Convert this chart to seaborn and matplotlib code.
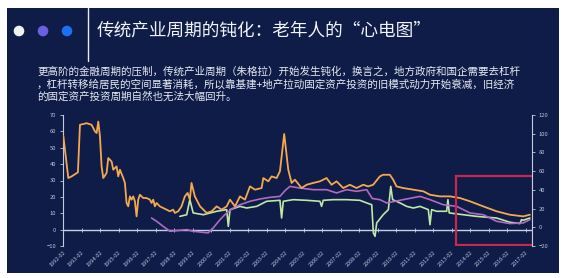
import matplotlib
matplotlib.use("Agg")
import matplotlib.pyplot as plt
from matplotlib.patches import Rectangle, Circle
import seaborn as sns

# ---- text ----
title = "传统产业周期的钝化：老年人的“心电图”"
body_lines = [
    "更高阶的金融周期的压制，传统产业周期（朱格拉）开始发生钝化，换言之，地方政府和国企需要去杠杆",
    "，杠杆转移给居民的空间显著消耗，所以靠基建+地产拉动固定资产投资的旧模式动力开始衰减，旧经济",
    "的固定资产投资周期自然也无法大幅回升。",
]

# ---- category axis (February of every year) ----
tick_years = list(range(1992, 2018))
tick_labels = [f"{y}-02" for y in tick_years]

# ---- series (time in decimal years, values in %) ----
orange_t = [1992.10, 1992.37, 1992.55, 1992.89, 1993.00, 1993.36, 1993.63, 1993.81, 1993.90, 1993.99,
            1994.08, 1994.17, 1994.26, 1994.44, 1994.53, 1994.71, 1994.80, 1994.98, 1995.07, 1995.16,
            1995.34, 1995.43, 1995.52, 1995.61, 1995.70, 1995.79, 1995.88, 1995.97, 1996.06, 1996.15,
            1996.24, 1996.42, 1996.60, 1996.78, 1996.87, 1996.96, 1997.05, 1997.14, 1997.32, 1997.50,
            1997.68, 1997.86, 1998.04, 1998.13, 1998.31, 1998.49, 1998.67, 1998.82, 1998.94, 1999.03,
            1999.21, 1999.49, 1999.85, 2000.12, 2000.39, 2000.66, 2000.93, 2001.11, 2001.38, 2001.65,
            2001.92, 2002.19, 2002.46, 2002.82, 2002.91, 2003.18, 2003.36, 2003.63, 2003.81, 2004.04,
            2004.26, 2004.44, 2004.62, 2004.98, 2005.25, 2005.61, 2005.97, 2006.33, 2006.60, 2006.87,
            2007.23, 2007.59, 2007.95, 2008.31, 2008.58, 2008.85, 2009.21, 2009.39, 2009.75, 2009.93,
            2010.11, 2010.47, 2011.02, 2011.56, 2011.92, 2012.46, 2013.00, 2013.54, 2014.08, 2014.80,
            2015.52, 2016.24, 2016.96, 2017.32]
orange_v = [57.3, 31.5, 32.5, 35.0, 64.0, 65.0, 64.0, 60.0, 59.0, 66.0,
            57.0, 38.6, 31.5, 34.6, 43.7, 41.6, 36.6, 38.6, 32.5, 36.6,
            31.5, 28.5, 16.3, 14.2, 20.3, 18.3, 20.3, 17.3, 8.1, 18.3,
            21.3, 19.3, 19.3, 18.3, 16.3, 18.3, 14.2, 16.3, 14.2, 13.2,
            12.2, 11.2, 12.2, 10.2, 11.2, 14.2, 20.3, 22.4, 18.3, 28.5,
            20.3, 14.2, 10.2, 11.2, 14.2, 12.2, 14.2, 18.3, 14.2, 20.3,
            18.3, 26.4, 24.4, 25.4, 31.5, 29.5, 32.5, 31.5, 35.6, 58.4,
            36.6, 28.5, 30.5, 25.4, 27.4, 28.5, 29.5, 31.5, 27.4, 29.5,
            25.4, 27.4, 25.4, 27.4, 26.4, 27.4, 32.5, 33.5, 33.5, 30.5,
            26.4, 25.4, 24.4, 23.4, 21.3, 20.3, 20.3, 19.3, 17.3, 14.2,
            11.2, 9.1, 8.1, 9.1]

purple_t = [1996.87, 1997.14, 1997.50, 1997.86, 1998.22, 1998.77, 1999.12, 1999.93, 2000.20, 2000.57,
            2000.93, 2001.29, 2001.65, 2002.19, 2002.73, 2003.27, 2003.81, 2004.10, 2004.35, 2004.89,
            2005.61, 2006.33, 2006.87, 2007.41, 2007.95, 2008.50, 2008.80, 2009.21, 2009.58, 2010.47,
            2011.38, 2011.92, 2012.64, 2013.36, 2014.08, 2014.80, 2015.52, 2016.24, 2016.96, 2017.32]
purple_v = [7.1, 5.1, 2.0, -1.0, -0.6, 0.0, -1.0, -2.0, 1.0, 6.1,
            10.2, 13.2, 15.2, 17.3, 18.7, 19.7, 20.3, 24.0, 26.4, 25.4,
            24.4, 24.4, 22.4, 24.4, 23.4, 24.4, 19.0, 18.3, 16.3, 18.3,
            20.3, 18.3, 15.2, 14.2, 10.2, 9.1, 5.1, 3.7, 4.1, 6.1]

green_t = [1998.40, 1998.77, 1998.94, 1999.12, 1999.67, 2000.39, 2000.93, 2001.02, 2001.11, 2001.65,
           2002.01, 2002.55, 2003.09, 2003.81, 2003.90, 2003.99, 2004.53, 2005.25, 2005.97, 2006.06,
           2006.15, 2006.69, 2007.41, 2008.13, 2008.50, 2008.77, 2008.86, 2008.95, 2009.04, 2009.39,
           2009.67, 2009.80, 2009.90, 2010.30, 2010.66, 2011.02, 2011.38, 2011.83, 2011.92, 2012.01,
           2012.28, 2012.82, 2012.89, 2012.96, 2013.72, 2014.44, 2015.52, 2016.24, 2016.78, 2016.87,
           2016.96, 2017.32]
green_v = [8.1, 9.1, 18.3, 10.2, 9.1, 11.2, 12.2, 2.0, 12.2, 14.2,
           13.2, 14.2, 17.3, 17.9, 7.1, 17.3, 18.3, 17.9, 17.3, 14.2,
           17.9, 18.3, 18.3, 17.9, 16.3, 15.2, -2.0, -4.1, 4.1, 9.1,
           12.2, 26.4, 18.3, 16.3, 14.2, 13.2, 14.2, 12.2, 3.0, 12.2,
           11.2, 11.2, 18.3, 10.2, 9.1, 8.1, 7.1, 4.5, 3.7, 6.1,
           5.7, 7.1]

# highlighted window (years, left-axis values)
box_years = (2013.3, 2017.5)
box_values = (-9.1, 33.0)

# ---- style ----
NAVY = "#0e1c47"
AXIS = "#c3cbe0"
LABEL = "#b9c3da"

sns.set_style("dark")
plt.rcParams["font.family"] = ["Noto Sans CJK SC", "DejaVu Sans"]

W, H = 570, 278
fig = plt.figure(figsize=(W / 100, H / 100), dpi=100)
fig.patch.set_facecolor("white")

# slide background in pixel coordinates
bg = fig.add_axes([0, 0, 1, 1], zorder=0)
bg.set_xlim(0, W)
bg.set_ylim(H, 0)
bg.axis("off")
bg.add_patch(Rectangle((7, 8), 552, 265, facecolor=NAVY, edgecolor="none"))
bg.plot([88, 88], [8, 61], color="#e8ecf4", lw=1.0)
for cx, col in [(19, "#eef3f0"), (43, "#6c60e2"), (67, "#1f6ff0")]:
    bg.add_patch(Circle((cx, 31), 5.3, facecolor=col, edgecolor="none"))
bg.text(97, 31, title, color="#f2f4f8", fontsize=12.7, va="center", ha="left")
for i, line in enumerate(body_lines):
    bg.text(37, 72 + i * 12.3, line, color="#e6eaf2", fontsize=7.6, va="center", ha="left")

# ---- chart ----
x0, x1, ytop, ybot = 63, 532, 115, 246
ax = fig.add_axes([x0 / W, 1 - ybot / H, (x1 - x0) / W, (ybot - ytop) / H], zorder=2)
ax.set_facecolor("none")

tick_pos = [y + 1 / 12 for y in tick_years]
ax.set_xlim(tick_pos[0], tick_pos[0] + (x1 - x0) / 18.5)
ax.set_ylim(-10, 70)

ax.axhline(0, color="#c8d0e8", lw=1.0, zorder=1)

sns.lineplot(x=green_t, y=green_v, ax=ax, color="#bfe8a8", lw=1.2, sort=False, estimator=None, zorder=3)
sns.lineplot(x=purple_t, y=purple_v, ax=ax, color="#b06ac4", lw=1.2, sort=False, estimator=None, zorder=3)
sns.lineplot(x=orange_t, y=orange_v, ax=ax, color="#f4a850", lw=1.3, sort=False, estimator=None, zorder=4)

ax.add_patch(Rectangle((box_years[0], box_values[0]), box_years[1] - box_years[0],
                       box_values[1] - box_values[0], fill=False, edgecolor="#c62a48", lw=1.6, zorder=5))

ax.set_xticks(tick_pos)
ax.set_xticklabels(tick_labels, rotation=45, ha="right", va="top", rotation_mode="anchor",
                   fontsize=4, color=LABEL)
ax.tick_params(axis="x", length=0, pad=3)
ax.set_yticks(range(-10, 80, 10))
ax.tick_params(axis="y", labelsize=4.2, labelcolor=LABEL, color=AXIS, length=2, width=0.6, pad=3,
               left=True)
ax.grid(False)
for s in ["top", "bottom", "right"]:
    ax.spines[s].set_visible(False)
ax.spines["left"].set_color(AXIS)
ax.spines["left"].set_linewidth(0.8)

# tick marks along the zero line
ymin, ymax = ax.get_ylim()
zero_axis = ax.secondary_xaxis((0 - ymin) / (ymax - ymin))
zero_axis.set_xticks(tick_pos)
zero_axis.tick_params(axis="x", direction="inout", length=2.5, width=0.6, color="#c8d0e8",
                      labelbottom=False)
zero_axis.spines["bottom"].set_visible(False)

# right-hand scale
ax2 = ax.twinx()
ax2.set_ylim(-20, 120)
ax2.set_yticks(range(-20, 140, 20))
ax2.tick_params(axis="y", labelsize=4.2, labelcolor=LABEL, color=AXIS, length=2, width=0.6, pad=3,
                right=True)
ax2.grid(False)
for s in ["top", "bottom", "left"]:
    ax2.spines[s].set_visible(False)
ax2.spines["right"].set_color(AXIS)
ax2.spines["right"].set_linewidth(0.8)

fig.savefig("out.png", dpi=100, facecolor="white")
